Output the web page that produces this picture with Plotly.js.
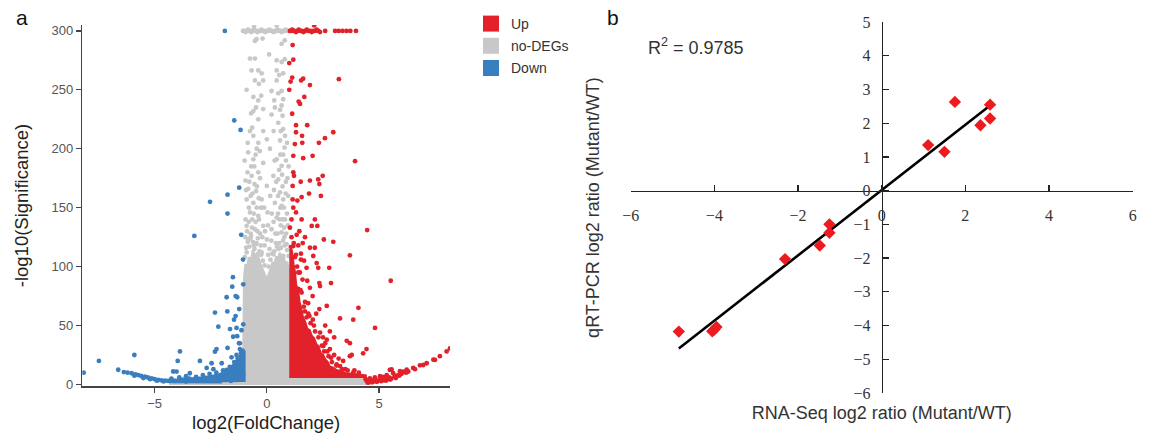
<!DOCTYPE html>
<html><head><meta charset="utf-8">
<script src="https://cdn.plot.ly/plotly-3.0.1.min.js"></script>
<style>html,body{margin:0;padding:0;background:#fff}#chart{width:1150px;height:433px}</style>
</head><body><div id="chart"></div>
<script>
// ===== Panel a: volcano plot (log2 FoldChange, -log10 significance) =====
const groupNames = ['Up', 'no-DEGs', 'Down'];

// dense cores of the clouds (outline)
const grayCore = [[-4.3,-0.5],[-4.3,1.5],[-1.05,2],[-1.05,40],[-1.02,70],[-1.0,92],[-0.95,102],[-0.88,98],[-0.8,108],[-0.7,104],[-0.62,114],[-0.52,108],[-0.42,112],[-0.33,104],[-0.25,100],[-0.15,96],[-0.07,92],[0.02,90],[0.1,94],[0.18,98],[0.26,104],[0.34,100],[0.42,109],[0.5,104],[0.58,112],[0.66,106],[0.74,110],[0.82,101],[0.9,104],[1.0,96],[1.0,7],[2.5,7],[4.0,6.5],[4.45,4],[4.6,1],[4.6,-0.5]];
const upCore = [[1.0,6.5],[4.4,6.5],[4.4,7.5],[4.1,8],[3.8,9],[3.5,9.5],[3.3,11],[3.1,12],[2.95,14],[2.8,15],[2.7,19],[2.6,21],[2.5,25],[2.4,26],[2.3,32],[2.2,34],[2.1,39],[2.0,41],[1.9,46],[1.8,47],[1.7,53],[1.6,57],[1.52,65],[1.45,70],[1.38,80],[1.3,84],[1.24,96],[1.18,102],[1.12,112],[1.06,118],[1.0,116]];
const downCore = [[-1.0,2],[-1.0,28],[-1.08,30],[-1.2,24],[-1.35,20],[-1.55,15],[-1.8,11],[-2.2,8],[-2.8,6],[-3.4,5],[-4.0,4.5],[-4.3,3.5],[-4.3,2],[-3.0,1.8],[-2.0,1.8]];

// individual genes
const grayPts = [
 [-1.06,300],[-1.0,300],[-0.95,299],[-0.89,300],[-0.84,301],[-0.79,300],[-0.73,300],[-0.69,299],[-0.63,300],[-0.58,301],[-0.52,300],[-0.46,300],[-0.41,299],[-0.35,300],[-0.29,300],[-0.24,301],[-0.18,300],[-0.12,300],[-0.07,299],[0.0,300],[0.05,300],[0.12,301],[0.18,300],[0.23,300],[0.3,299],[0.36,300],[0.41,300],[0.48,301],[0.54,300],[0.6,300],[0.66,299],[0.72,300],[0.78,300],[0.84,301],[0.9,300],[0.96,300],
 [-0.57,303.5],[0.44,304.5],[-0.53,291.5],[-0.19,293.5],[0.66,289],[0.8,292],[-0.46,293],
 [-0.75,276.5],[-0.53,276.5],[0.66,273.6],[0.8,276],[0.44,275],[-0.68,266.5],[-0.38,266.5],[-0.23,264],[0.44,266.5],[0.55,262.5],[0.73,264],[-0.53,258],[-0.16,258],[0.44,258],[-0.35,255],
 [-0.6,244],[-0.38,241],[0.21,249],[0.66,249],[0.51,247],[0.33,241],[0.73,242],[-0.48,235],[0.36,235],[0.66,236.7],[0.59,233],[-0.16,233.7],[-0.6,232],[0.21,229],[0.51,222],
 [-0.38,225],[-0.65,218],[-0.16,215],[0.73,216.7],[0.81,211],[-0.6,211],[-0.38,205],[0.0,208],[0.59,207],[0.79,201],[-0.83,197],[-0.31,198],[0.14,200],[0.73,195],
 [-0.6,191],[-0.16,188],[0.44,191],[0.66,185.5],[-0.95,173],[-0.68,177],[-0.38,180],[0.29,177],[0.51,174],[0.85,172],[-0.83,166],[-0.48,164],[0.0,168.5],[0.59,163],[0.73,157],
 [-0.9,157],[-0.6,154],[-0.23,157],[0.36,154],[0.66,151.6],[-0.75,146],[-0.38,143],[0.03,146],[0.44,141.6],[0.81,140],[-0.9,134.6],[-0.53,131.7],[-0.16,134.6],[0.21,131.7],[0.66,129],
 [-0.83,123],[-0.46,120],[0.0,123],[0.41,120],[0.88,119],[-0.9,112],[-0.6,109],[-0.23,112],[0.29,110.5],[0.73,109],[-0.97,81],[-0.93,78],
 [-0.7,185],[-0.55,170],[-0.8,150],[-0.65,140],[-0.45,150],[0.55,182],[0.7,168],[0.5,145],[0.62,135],[0.78,125],[-0.72,128],[-0.58,118],[0.52,115],[0.38,128],[-0.3,128],[0.12,115],[-0.1,118],[0.9,145],[-0.95,140],[0.95,160],[0.85,190],[-0.85,205],[0.3,215],[-0.45,200],[0.6,195],[-0.3,175],[0.15,160],[-0.7,230],[0.7,228],[-0.25,245],[0.1,280],[-0.9,250],
 [-0.98,108],[-0.92,116],[-0.85,121],[-0.78,117],[-0.7,126],[-0.62,121],[-0.55,115],[-0.48,119],[-0.4,124],[-0.32,113],[-0.25,110],[-0.18,105],[-0.1,101],[0.08,100],[0.16,106],[0.24,111],[0.33,113],[0.45,117],[0.55,120],[0.63,116],[0.72,122],[0.8,118],[0.9,114],[0.97,109],
 [-0.96,125],[-0.88,130],[-0.8,138],[-0.74,124],[-0.66,133],[-0.58,145],[-0.5,138],[-0.42,130],[-0.35,140],[-0.27,118],[-0.2,125],[-0.08,130],[0.06,110],[0.2,122],[0.3,138],[0.48,128],[0.56,140],[0.7,140],[0.77,133],[0.86,128],[0.94,135],
 [-0.92,165],[-0.86,180],[-0.78,172],[-0.72,160],[-0.64,162],[-0.56,185],[-0.44,168],[-0.36,158],[-0.26,150],[-0.12,150],[0.05,135],[0.22,145],[0.32,165],[0.42,172],[0.5,160],[0.6,150],[0.68,178],[0.76,150],[0.84,162],[0.92,175],[0.97,185],[-0.99,190],[-0.5,195],[0.35,190],[0.9,205],[-0.75,215],[0.62,215]
];
const upPts = [
 [1.03,300],[1.08,300],[1.13,301],[1.18,300],[1.23,300],[1.3,299],[1.36,300],[1.42,301],[1.5,300],[1.56,300],[1.63,299],[1.7,300],[1.78,301],[1.85,300],[1.93,300],[2.0,299],[2.08,300],[2.15,300],[2.22,301],[2.3,300],[2.37,299],[2.6,300],[3.04,300],[3.2,300],[3.37,300],[3.55,300],[3.72,300],[3.97,300],[2.11,304.6],
 [1.15,288],[1.18,275.6],[1.0,272.7],[1.13,260.4],[1.62,259.5],[1.53,258],[1.92,254],[3.21,259],[1.06,257],[1.0,250],[1.67,244],[1.42,240],[1.48,238],[1.13,229.7],
 [1.30,220],[1.30,214],[1.80,220],[1.57,211],[1.58,205],[1.25,204],[2.32,205],[2.59,209],[2.96,214],[1.18,194],[1.62,192],[2.04,194],[3.93,189.5],[1.18,180],[1.21,177],[2.49,177],[1.51,172],[1.92,173],[2.29,174],[2.34,170],[1.15,168.5],[1.88,162],[2.41,160],[1.55,159],[1.15,157],[1.36,156],[1.18,150],[1.30,146],[1.55,140],[2.14,140],[2.25,134.5],[2.0,134.5],[1.03,133],[4.47,131],[1.33,127],[1.70,125],[2.54,123],[2.96,121],[1.18,117.5],[1.92,116],[2.14,116],[1.52,111],[3.70,109.6],[2.07,109],[1.52,106],[1.66,105],[2.22,103],[1.77,99],[2.29,99],[2.78,99],[1.47,95],[1.59,89],[5.52,88],[2.34,86],[2.86,86],[1.92,82],[2.37,83.5],[1.40,81],[2.04,75],[1.84,69],[4.08,65],[2.34,64],[2.67,66.6],[3.26,56],[3.85,55],[1.77,57],[4.82,48],[3.56,37],[2.37,44],[2.81,45],[4.44,30],[3.78,25],[3.70,24],[2.81,30],[2.86,22.7],[3.26,15.6],[3.11,17],[5.56,12.7],[2.67,38],[2.52,32.6],[3.70,35],[4.29,26.4],[5.48,12.3],
 [1.2,120],[1.1,140],[1.35,100],[1.5,80],[1.7,70],[1.9,58],[2.1,50],[2.5,40],[2.2,60],[2.6,50],[3.0,25],[3.4,20],[3.0,40],[1.6,120],[1.8,88],[1.45,130],[2.7,28],[3.5,13],[3.9,12],[4.1,10],
 [1.4,95],[1.55,78],[1.65,66],[1.85,60],[1.95,52],[2.15,45],[2.3,40],[2.45,33],[2.55,28],[2.75,24],[2.9,19],[3.1,16],[3.35,13],[3.6,12],[3.85,10],[1.25,108],[1.1,125],[1.3,110],[1.7,62],[2.05,55],[2.6,35],[3.2,22],[1.4,118],
 [4.59,5.2],[4.81,6.0],[5.04,7.0],[5.19,6.5],[5.34,8.0],[5.63,9.5],[5.93,11.2],[6.08,10.8],[6.23,12.5],[6.52,14],[6.82,16.2],[6.97,16.5],[7.12,18],[7.42,21],[7.49,20.8],[7.71,24],[8.01,28],[8.16,30.5],
 [4.45,3],[4.55,2],[4.65,3.5],[4.75,2.5],[4.85,4],[4.95,3],[5.05,4.5],[5.15,3.5],[5.25,5],[5.35,4],[5.45,6],[5.55,5],[5.7,7],[5.85,8],[4.5,1.5],[4.7,1.8],[4.9,2.2],[5.1,2.8],[5.3,3.2],[5.5,4.2],[5.75,5.5],[6.0,9],[6.3,11],[6.6,13],[5.9,7.5],[6.2,10],[4.4,4.5],[4.6,4.2]
];
const downPts = [
 [-1.87,300],[-1.45,224],[-1.17,216],[-1.75,161],[-1.23,167],[-2.53,155],[-1.75,145],[-3.23,126],[-1.14,127],[-1.06,106],[-1.51,91],[-1.05,85],[-1.54,83],[-1.39,75],[-1.79,74],[-1.32,74],[-1.23,64],[-1.76,62],[-2.31,61],[-1.39,58],[-1.46,55],[-1.05,51],[-2.16,49],[-1.35,48],[-1.64,47],[-1.32,41],[-1.24,35],[-1.75,31],[-2.24,30],[-1.20,30],[-3.87,28],[-5.90,25],[-7.48,20],[-8.16,10],[-6.62,12.5],[-6.37,10.5],[-3.97,20],[-2.68,14],[-2.38,13],[-2.01,18],[-1.57,23],[-1.08,23],[-2.98,20],[-4.17,11],[-2.46,18],[-2.31,27.8],[-1.5,40.5],[-1.2,34.9],[-1.35,25],[-1.13,46],[-3.43,9.5],[-4.02,10.9],[-1.79,12.3],[-1.50,15.1],
 [-6.02,9.5],[-5.85,8.5],[-5.73,8],[-5.6,7.2],[-5.43,6.6],[-5.3,6],[-5.13,5.2],[-5.0,4.6],[-4.84,3.8],[-4.7,3.5],[-4.54,3.2],[-4.4,3.0],[-5.9,7.5],[-5.5,5.5],[-5.2,4.5],[-4.9,3.2],[-4.6,2.6],[-6.2,10],
 [-4.25,5],[-4.1,3],[-3.9,6],[-3.75,4],[-3.6,7],[-3.45,5],[-3.3,3.5],[-3.15,6.5],[-3.0,4.5],[-2.85,8],[-2.7,5.5],[-2.55,9],[-2.4,6],[-2.25,10],[-2.1,7],[-1.95,12],[-1.8,8],[-1.65,15],[-1.55,10],[-1.45,19],[-1.4,6],[-1.3,22],[-1.25,12],[-1.15,27],[-1.1,16],[-1.05,8],[-2.0,4],[-2.6,3],[-3.6,2.5],[-1.6,3]
];
const volcanoXTicks = [-5, 0, 5];
const volcanoYTicks = [0, 50, 100, 150, 200, 250, 300];

// ===== Panel b: validation qRT-PCR vs RNA-Seq =====
const rnaSeq = [-4.85, -4.05, -4.00, -3.95, -2.31, -1.48, -1.25, -1.25, 1.11, 1.50, 1.75, 2.36, 2.59, 2.59];
const qpcr   = [-4.18, -4.17, -4.12, -4.04, -2.03, -1.63, -1.25, -1.00, 1.35, 1.15, 2.63, 1.94, 2.14, 2.55];
const r2Text = 'R<sup>2</sup> = 0.9785';
const bXTicks = [-6, -4, -2, 0, 2, 4, 6];
const bYTicks = [-6, -5, -4, -3, -2, -1, 0, 1, 2, 3, 4, 5];

// ---------------------------------------------------------------
const W = 1150, H = 433;
const C_UP = '#e3212a', C_NO = '#c8c8c8', C_DOWN = '#3a7ebf';
const SANS = 'Liberation Sans, Arial, sans-serif';
const SERIF = 'Liberation Serif';
const px = v => v / W, py = v => 1 - v / H;

const xs = a => a.map(p => p[0]), ys = a => a.map(p => p[1]);
function core(pts, color) {
  return {type:'scatter', mode:'lines', x: xs(pts), y: ys(pts), fill:'toself', fillcolor: color,
    line:{color: color, width: 2.5}, showlegend:false, hoverinfo:'skip', xaxis:'x', yaxis:'y'};
}
function cloud(pts, color) {
  return {type:'scatter', mode:'markers', x: xs(pts), y: ys(pts),
    marker:{color: color, size: 4.8, line:{width:0}}, showlegend:false, xaxis:'x', yaxis:'y'};
}
function legendItem(name, color, g) {
  return {type:'scatter', mode:'markers', x:[null], y:[null], name: name, legendgroup: g,
    marker:{symbol:'square', size:16, color: color}, xaxis:'x', yaxis:'y', showlegend:true};
}

// regression line from the validation data
const n = rnaSeq.length;
const mx = rnaSeq.reduce((s,v)=>s+v,0)/n, my = qpcr.reduce((s,v)=>s+v,0)/n;
let sxy = 0, sxx = 0;
for (let i=0;i<n;i++){ sxy += (rnaSeq[i]-mx)*(qpcr[i]-my); sxx += (rnaSeq[i]-mx)**2; }
const slope = sxy/sxx, icpt = my - slope*mx;
const fx = [Math.min(...rnaSeq), Math.max(...rnaSeq)];
const fy = fx.map(v => slope*v + icpt);

const traces = [
  core(grayCore, C_NO), cloud(grayPts, C_NO),
  core(downCore, C_DOWN), cloud(downPts, C_DOWN),
  core(upCore, C_UP), cloud(upPts, C_UP),
  legendItem(groupNames[0], C_UP, 'g1'), legendItem(groupNames[1], C_NO, 'g2'), legendItem(groupNames[2], C_DOWN, 'g3'),
  {type:'scatter', mode:'lines', x: fx, y: fy, line:{color:'#000', width:2.6}, showlegend:false, xaxis:'x2', yaxis:'y2'},
  {type:'scatter', mode:'markers', x: rnaSeq, y: qpcr, marker:{symbol:'diamond', size:9.5, color:'#ec1b1f', line:{width:0}}, showlegend:false, xaxis:'x2', yaxis:'y2'}
];

// layout geometry
const aX = [-8.22, 8.16], aY = [-1.3, 305];
const aXdom = [px(82.3), px(450)], aYdom = [py(386), py(25)];
const bX = [-6, 6], bY = [-6, 5];
const bXdom = [px(630.7), px(1132.7)], bYdom = [py(393), py(22)];
const bYpos = bXdom[0] + (0 - bX[0]) / (bX[1]-bX[0]) * (bXdom[1]-bXdom[0]);
const bXpos = bYdom[0] + (0 - bY[0]) / (bY[1]-bY[0]) * (bYdom[1]-bYdom[0]);
const tickStyle = {ticks:'outside', ticklen:5, tickwidth:1.3, tickcolor:'#444', showgrid:false, zeroline:false};

const layout = {
  width: W, height: H, margin:{l:0,r:0,t:0,b:0}, paper_bgcolor:'#fff', plot_bgcolor:'rgba(0,0,0,0)',
  hovermode:false, font:{family: SANS, color:'#333'},
  xaxis:Object.assign({domain:aXdom, range:aX, anchor:'y', showline:true, linecolor:'#444', linewidth:1.5,
    tickvals:volcanoXTicks, tickfont:{size:13, color:'#555'},
    title:{text:'log2(FoldChange)', font:{size:18.5, color:'#222'}, standoff:6}}, tickStyle),
  yaxis:Object.assign({domain:aYdom, range:aY, anchor:'x', showline:true, linecolor:'#444', linewidth:1.5,
    tickvals:volcanoYTicks, tickfont:{size:13, color:'#555'},
    title:{text:'-log10(Significance)', font:{size:18.5, color:'#222'}, standoff:18}}, tickStyle),
  // end ticks of the volcano axes (no labels)
  xaxis3:Object.assign({domain:aXdom, range:aX, anchor:'y', overlaying:'x', showline:false, showticklabels:false,
    tickvals:aX}, tickStyle),
  yaxis3:Object.assign({domain:aYdom, range:aY, anchor:'x', overlaying:'y', showline:false, showticklabels:false,
    tickvals:[aY[1]]}, tickStyle),
  xaxis2:{domain:bXdom, range:bX, anchor:'free', position:bXpos, showgrid:false, zeroline:false,
    showline:true, linecolor:'#222', linewidth:1.4, ticks:'inside', ticklen:6, tickwidth:1.3, tickcolor:'#222',
    tickvals:bXTicks, tickfont:{family:SERIF, size:16, color:'#333'}, ticklabelstandoff:10,
    title:{text:'RNA-Seq log2 ratio (Mutant/WT)', font:{size:18, color:'#333'}, standoff:183}},
  yaxis2:{domain:bYdom, range:bY, anchor:'free', position:bYpos, showgrid:false, zeroline:false,
    showline:true, linecolor:'#222', linewidth:1.4, ticks:'inside', ticklen:6, tickwidth:1.3, tickcolor:'#222',
    tickvals:bYTicks, tickfont:{family:SERIF, size:16, color:'#333'}, ticklabelstandoff:8,
    title:{text:'qRT-PCR log2 ratio (Mutant/WT)', font:{size:18, color:'#333'}, standoff:247}},
  legend:{x:px(471), y:py(8), xanchor:'left', yanchor:'top', font:{size:14, color:'#333'},
    bgcolor:'rgba(0,0,0,0)', traceorder:'grouped', tracegroupgap:1},
  annotations:[
    {text:'a', x:px(22), y:py(17), xref:'paper', yref:'paper', xanchor:'center', yanchor:'middle', showarrow:false, font:{size:21, color:'#111'}},
    {text:'b', x:px(613), y:py(17), xref:'paper', yref:'paper', xanchor:'center', yanchor:'middle', showarrow:false, font:{size:21, color:'#111'}},
    {text:r2Text, x:px(696), y:py(46), xref:'paper', yref:'paper', xanchor:'center', yanchor:'middle', showarrow:false, font:{size:18, color:'#333'}}
  ]
};

Plotly.newPlot('chart', traces, layout, {staticPlot:true, displayModeBar:false});
</script>
</body></html>
